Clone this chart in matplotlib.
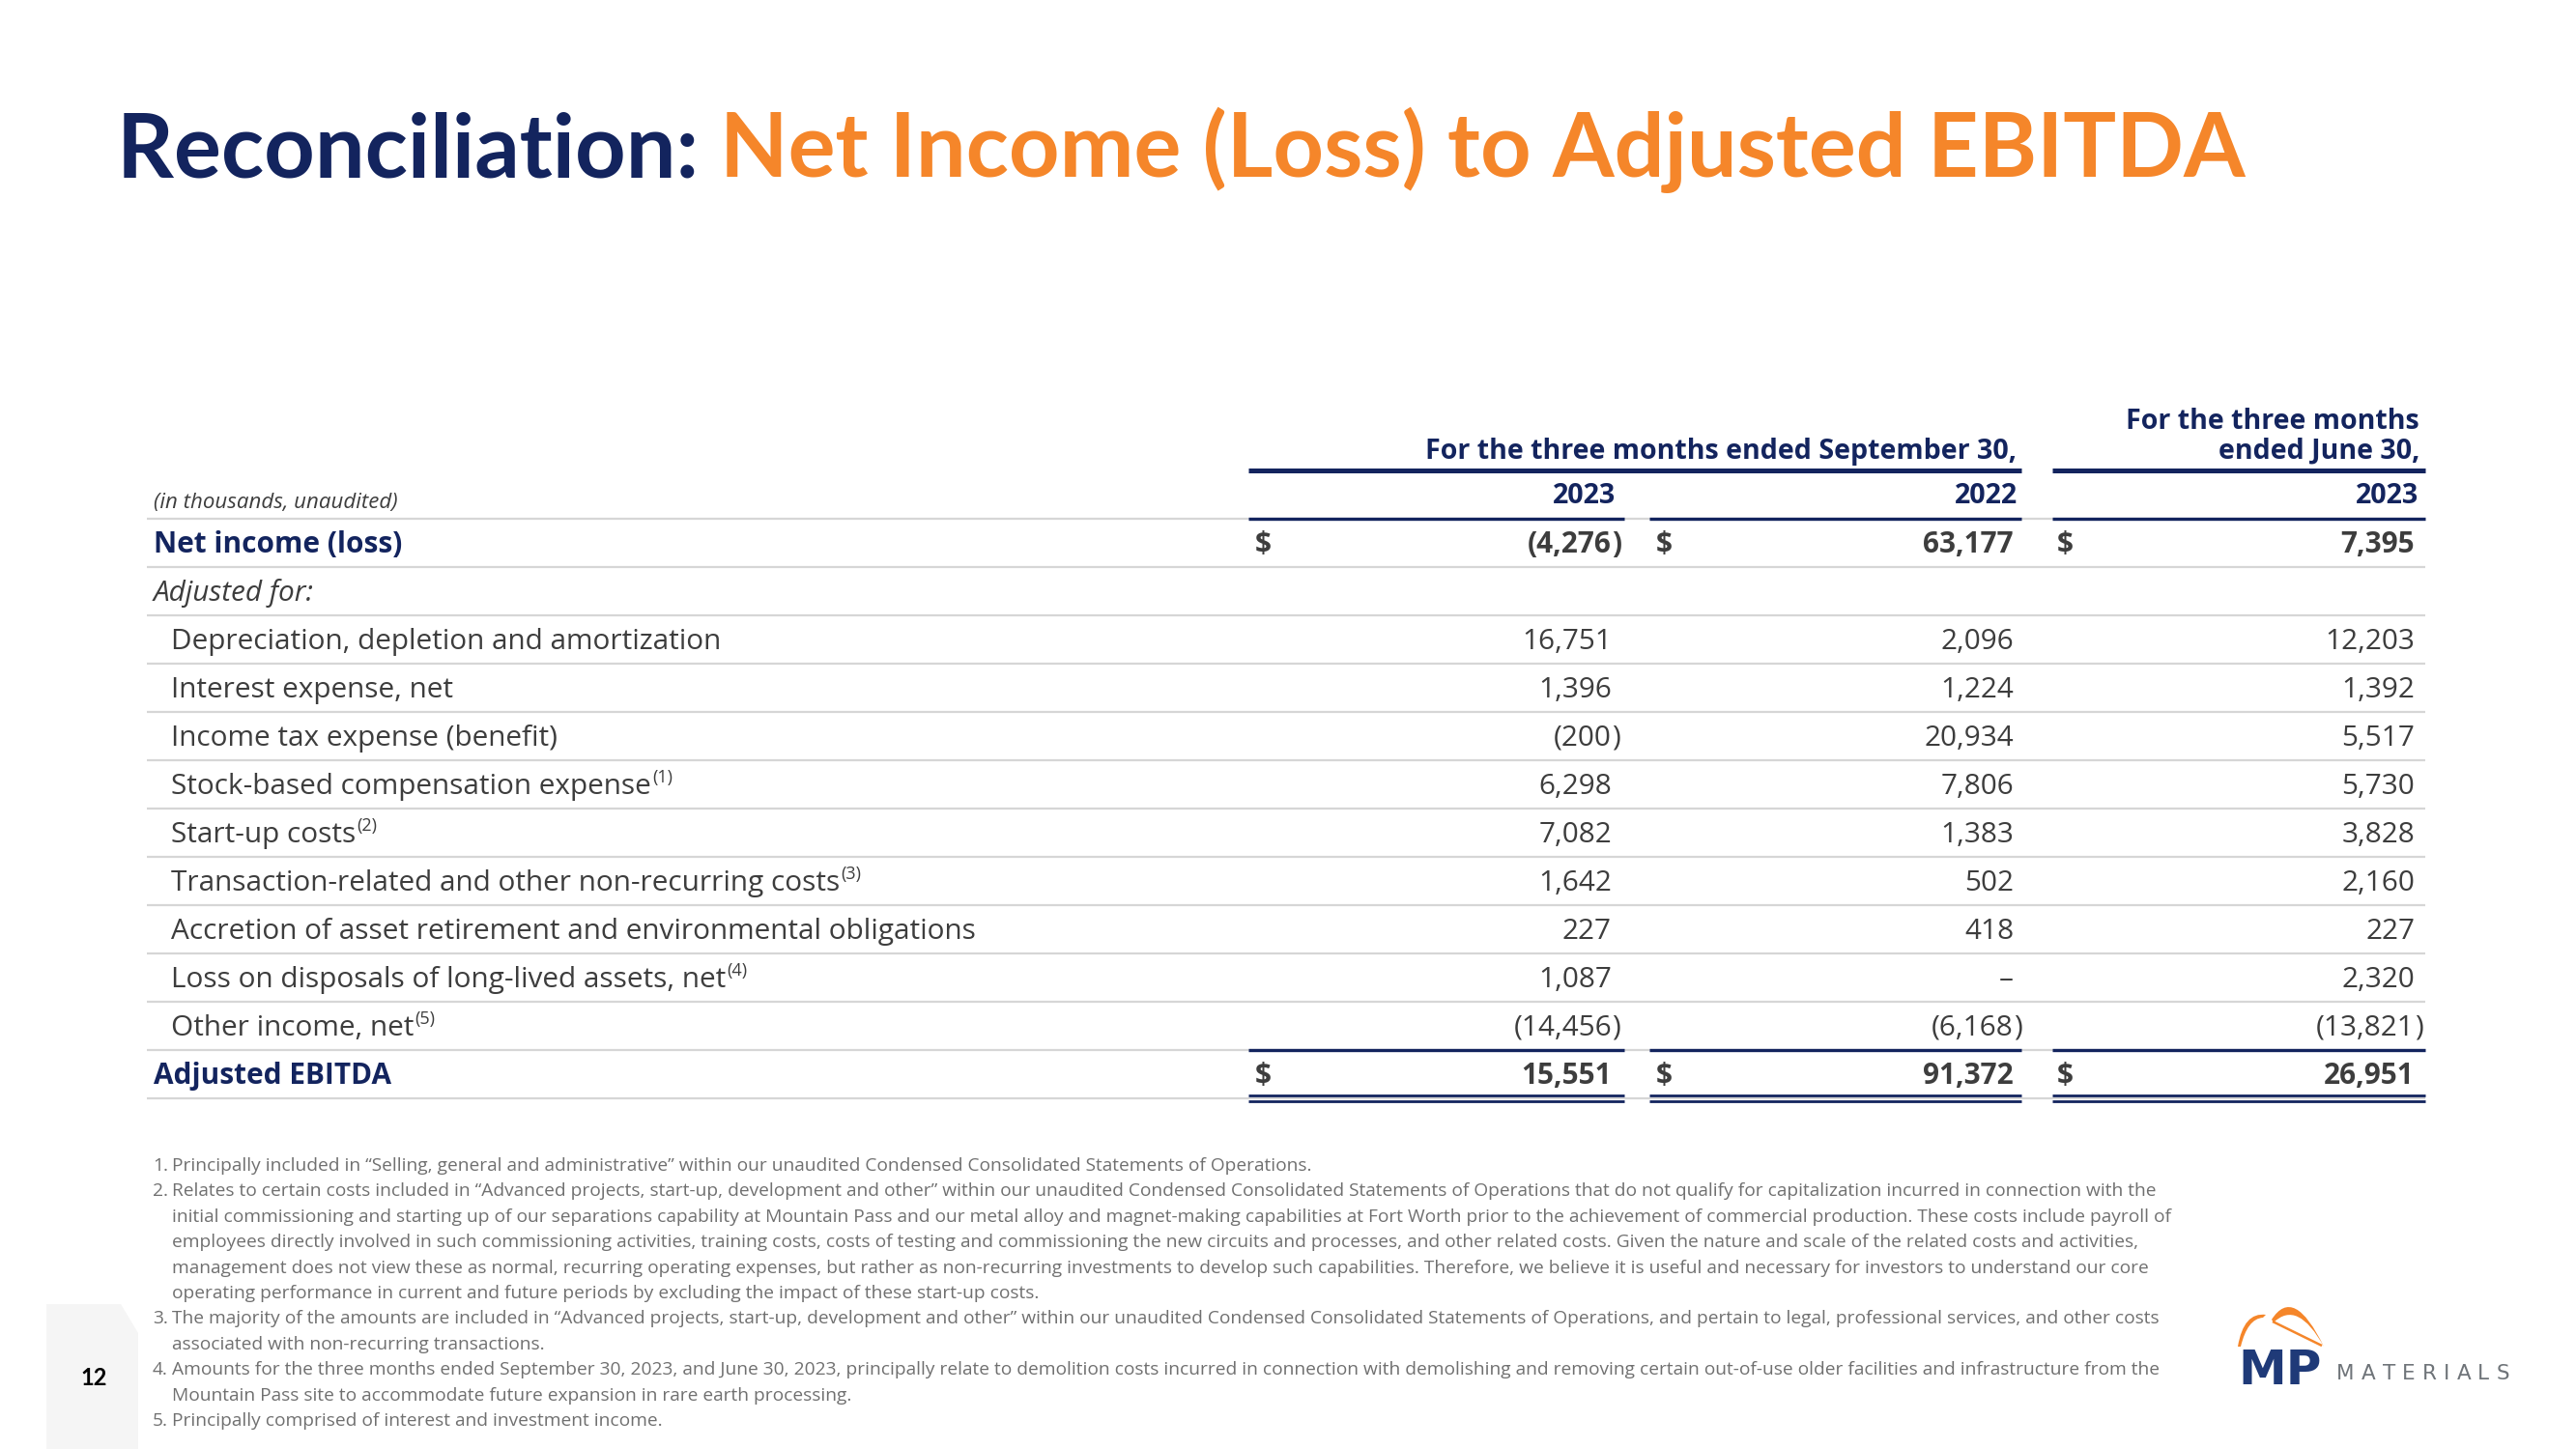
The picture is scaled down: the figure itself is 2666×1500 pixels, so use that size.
import matplotlib
matplotlib.use('Agg')
import matplotlib.pyplot as plt
from matplotlib.patches import Polygon, PathPatch
from matplotlib.path import Path

# ---- data ----
row_labels = ["Net income (loss)", "Adjusted for:",
              "Depreciation, depletion and amortization",
              "Interest expense, net",
              "Income tax expense (benefit)",
              "Stock-based compensation expense",
              "Start-up costs",
              "Transaction-related and other non-recurring costs",
              "Accretion of asset retirement and environmental obligations",
              "Loss on disposals of long-lived assets, net",
              "Other income, net",
              "Adjusted EBITDA"]
row_notes = [None, None, None, None, None, "(1)", "(2)", "(3)", None, "(4)", "(5)", None]
q3_2023 = [-4276, None, 16751, 1396, -200, 6298, 7082, 1642, 227, 1087, -14456, 15551]
q3_2022 = [63177, None, 2096, 1224, 20934, 7806, 1383, 502, 418, "–", -6168, 91372]
q2_2023 = [7395, None, 12203, 1392, 5517, 5730, 3828, 2160, 227, 2320, -13821, 26951]
col_years = ["2023", "2022", "2023"]

footnotes = [
    ("1.", ["Principally included in “Selling, general and administrative” within our unaudited Condensed Consolidated Statements of Operations."]),
    ("2.", ["Relates to certain costs included in “Advanced projects, start-up, development and other” within our unaudited Condensed Consolidated Statements of Operations that do not qualify for capitalization incurred in connection with the",
            "initial commissioning and starting up of our separations capability at Mountain Pass and our metal alloy and magnet-making capabilities at Fort Worth prior to the achievement of commercial production. These costs include payroll of",
            "employees directly involved in such commissioning activities, training costs, costs of testing and commissioning the new circuits and processes, and other related costs. Given the nature and scale of the related costs and activities,",
            "management does not view these as normal, recurring operating expenses, but rather as non-recurring investments to develop such capabilities. Therefore, we believe it is useful and necessary for investors to understand our core",
            "operating performance in current and future periods by excluding the impact of these start-up costs."]),
    ("3.", ["The majority of the amounts are included in “Advanced projects, start-up, development and other” within our unaudited Condensed Consolidated Statements of Operations, and pertain to legal, professional services, and other costs",
            "associated with non-recurring transactions."]),
    ("4.", ["Amounts for the three months ended September 30, 2023, and June 30, 2023, principally relate to demolition costs incurred in connection with demolishing and removing certain out-of-use older facilities and infrastructure from the",
            "Mountain Pass site to accommodate future expansion in rare earth processing."]),
    ("5.", ["Principally comprised of interest and investment income."]),
]

NAVY = '#13245e'
ORANGE = '#f5862a'
TEXT = '#3d3d3d'
GREY_LINE = '#d6d6d6'
FOOT = '#707070'
BODY = ['Open Sans', 'DejaVu Sans']

plt.rcParams['font.family'] = ['Lato', 'DejaVu Sans']

fig = plt.figure(figsize=(26.66, 15), dpi=100)
ax = fig.add_axes([0, 0, 1, 1])
ax.set_xlim(0, 2666)
ax.set_ylim(1500, 0)
ax.axis('off')
r = fig.canvas.get_renderer()

def width(t):
    return t.get_window_extent(renderer=r).width

# ---- title ----
t1 = ax.text(121, 183, "Reconciliation: ", fontsize=66, fontweight='bold', color=NAVY, va='baseline')
ax.text(121 + width(t1), 183, "Net Income (Loss) to Adjusted EBITDA", fontsize=66,
        fontweight='bold', color=ORANGE, va='baseline')

# ---- table geometry ----
label_x, indent_x = 159, 177
dollar_x = [1299, 1714, 2129]
num_right = [1668, 2084, 2499]
col_span = [(1292, 1681), (1707, 2092), (2124, 2510)]
row_y0, row_h = 562, 50
fs = 21.4
hfs = 20.6

# headers
ax.text(2087, 475, "For the three months ended September 30,", fontsize=hfs, fontweight='bold',
        color=NAVY, ha='right', va='baseline', family=BODY)
ax.text(2504, 444, "For the three months", fontsize=hfs, fontweight='bold', color=NAVY,
        ha='right', va='baseline', family=BODY)
ax.text(2504, 475, "ended June 30,", fontsize=hfs, fontweight='bold', color=NAVY,
        ha='right', va='baseline', family=BODY)
ax.plot([col_span[0][0], col_span[1][1]], [487, 487], color=NAVY, lw=3.6, solid_capstyle='butt')
ax.plot([col_span[2][0], col_span[2][1]], [487, 487], color=NAVY, lw=3.6, solid_capstyle='butt')
for i, yr in enumerate(col_years):
    ax.text(num_right[i] + 4, 521, yr, fontsize=hfs, fontweight='bold', color=NAVY,
            ha='right', va='baseline', family=BODY)
ax.text(label_x, 526, "(in thousands, unaudited)", fontsize=16, style='italic', color=TEXT,
        va='baseline', family=BODY)

def hline(y, navy_cols=False, double=False):
    ax.plot([152, col_span[2][1]], [y, y], color=GREY_LINE, lw=1.6, solid_capstyle='butt')
    if navy_cols:
        offs = [-3, 3] if double else [0]
        for a, b in col_span:
            for o in offs:
                ax.plot([a, b], [y + o, y + o], color=NAVY, lw=2.0 if double else 2.4,
                        solid_capstyle='butt')

def fmt(v):
    if isinstance(v, str):
        return v, ""
    if v < 0:
        return "(" + format(-v, ",d"), ")"
    return format(v, ",d"), ""

columns = [q3_2023, q3_2022, q2_2023]
n = len(row_labels)
hline(row_y0 - row_h / 2, navy_cols=True)
for i, lab in enumerate(row_labels):
    y = row_y0 + i * row_h
    yb = y + 10
    bold = i in (0, n - 1)
    if bold:
        tl = ax.text(label_x, yb, lab, fontsize=fs, fontweight='bold', color=NAVY, va='baseline', family=BODY)
    elif lab == "Adjusted for:":
        tl = ax.text(label_x, yb, lab, fontsize=fs, style='italic', color=TEXT, va='baseline', family=BODY)
    else:
        tl = ax.text(indent_x, yb, lab, fontsize=fs, color=TEXT, va='baseline', family=BODY)
    if row_notes[i]:
        x0 = tl.get_position()[0] + width(tl) + 1
        ax.text(x0, yb - 12, row_notes[i], fontsize=13, color=TEXT, va='baseline', family=BODY)
    for c, col in enumerate(columns):
        v = col[i]
        if v is None:
            continue
        s, tail = fmt(v)
        w = 'bold' if bold else 'normal'
        if bold:
            ax.text(dollar_x[c], yb, "$", fontsize=fs, fontweight=w, color=TEXT, va='baseline', family=BODY)
        ax.text(num_right[c], yb, s, fontsize=fs, fontweight=w, color=TEXT, ha='right',
                va='baseline', family=BODY)
        if tail:
            ax.text(num_right[c], yb, tail, fontsize=fs, fontweight=w, color=TEXT, ha='left',
                    va='baseline', family=BODY)
    ysep = y + row_h / 2
    if i == n - 2:
        hline(ysep, navy_cols=True)
    elif i == n - 1:
        hline(ysep, navy_cols=True, double=True)
    else:
        hline(ysep)

# ---- footnotes ----
fy = 1212
for num, lines in footnotes:
    ax.text(158, fy, num, fontsize=13.8, color=FOOT, va='baseline', family=BODY)
    for ln in lines:
        ax.text(178, fy, ln, fontsize=13.8, color=FOOT, va='baseline', family=BODY)
        fy += 26.4

# ---- page number tab ----
ax.add_patch(Polygon([[48, 1500], [48, 1350], [125, 1350], [143, 1380], [143, 1500]],
                     closed=True, facecolor='#f5f5f5', edgecolor='none'))
ax.text(97, 1427, "12", fontsize=17, fontweight='bold', color='black', ha='center', va='center')

# ---- logo ----
big = Path([(2351, 1366), (2374, 1330), (2405, 1394), (2378, 1345), (2353, 1369), (2351, 1366)],
           [Path.MOVETO, Path.CURVE3, Path.CURVE3, Path.CURVE3, Path.CURVE3, Path.CLOSEPOLY])
small = Path([(2316, 1394), (2322, 1358), (2345, 1361), (2342, 1364), (2326, 1365), (2319, 1394), (2316, 1394)],
             [Path.MOVETO, Path.CURVE3, Path.CURVE3, Path.LINETO, Path.CURVE3, Path.CURVE3, Path.CLOSEPOLY])
for p in (big, small):
    ax.add_patch(PathPatch(p, facecolor=ORANGE, edgecolor='none'))
ax.plot([2352, 2403], [1368, 1393], color=ORANGE, lw=1.8, solid_capstyle='butt')
ax.text(2316, 1433, "MP", fontsize=36, fontweight='bold', color='#1f3a78', va='baseline',
        family='DejaVu Sans')
# MATERIALS letter-spaced to the logo width
letters = [ax.text(0, 1428, ch, fontsize=15.5, color='#6f7479', va='baseline', family='DejaVu Sans')
           for ch in "MATERIALS"]
ws = [width(t) for t in letters]
gap = (2597 - 2418 - sum(ws)) / (len(ws) - 1)
x = 2418
for t, w in zip(letters, ws):
    t.set_x(x)
    x += w + gap

fig.savefig('out.png', dpi=100)
